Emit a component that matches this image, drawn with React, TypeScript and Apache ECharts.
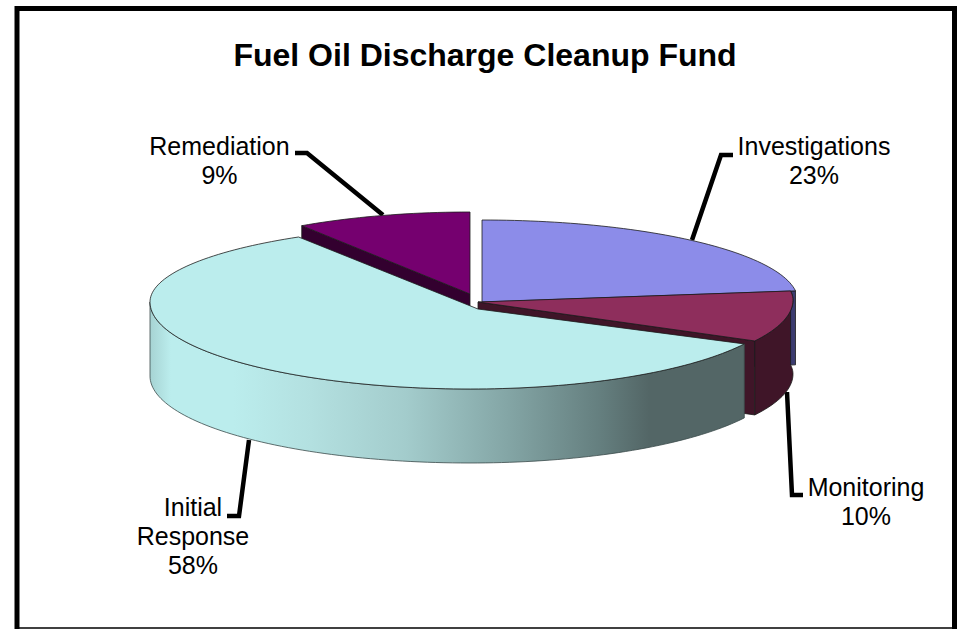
import React, { useEffect, useRef } from "react";
import * as echarts from "echarts";

const categories = ["Investigations", "Monitoring", "Initial\nResponse", "Remediation"];
const values = [23, 10, 58, 9];
const titleText = "Fuel Oil Discharge Cleanup Fund";

const FONT = '"Liberation Sans", Arial, sans-serif';
const topColors = ["#8C8CE9", "#8E2E5C", "#BBEDED", "#75006F"];
const cutColors = ["#3C3C70", "#3F1528", "#3F1528", "#33002F"];
const paintOrder = [2, 3, 4, 1];
const DEPTH = 74;

// projection of each exploded slice: ellipse centre, radii, apex
const slices = [
  { cx: 482, cy: 301, rxL: 315, rxR: 316, ryT: 81, ryB: 81, ax: 482, ay: 302 },
  { cx: 484, cy: 300, rxL: 309, rxR: 309, ryT: 72, ryB: 85, ax: 478, ay: 302 },
  { cx: 470, cy: 302, rxL: 320, rxR: 313, ryT: 77, ryB: 87, ax: 478, ay: 309 },
  { cx: 470, cy: 300, rxL: 314, rxR: 314, ryT: 88, ryB: 88, ax: 470, ay: 294 },
];
const labelAnchors = [
  [814, 160],
  [866, 501],
  [193, 536],
  [219.5, 160],
];
const leaders = [
  [[733, 155], [721, 155], [692, 240]],
  [[787, 392], [792, 495], [803, 495]],
  [[249, 440], [239, 516], [227, 516]],
  [[295, 153], [307, 153], [383, 215]],
];

const total = values.reduce((a, b) => a + b, 0);
const pointAt = (s: any, deg: number, drop = 0) => {
  const t = (deg * Math.PI) / 180;
  const sn = Math.sin(t);
  const cs = Math.cos(t);
  return [
    s.cx + (sn >= 0 ? s.rxR : s.rxL) * sn,
    s.cy - (cs >= 0 ? s.ryT : s.ryB) * cs + drop,
  ];
};
const arc = (s: any, a: number, b: number, drop = 0) => {
  const pts: number[][] = [];
  const n = Math.max(2, Math.ceil(Math.abs(b - a) / 1.5));
  for (let i = 0; i <= n; i++) pts.push(pointAt(s, a + ((b - a) * i) / n, drop));
  return pts;
};

const initialWallFill = new echarts.graphic.LinearGradient(0, 0, 1, 0, [
  { offset: 0, color: "#A6D3D3" },
  { offset: 0.035, color: "#BBEDED" },
  { offset: 0.14, color: "#BBEDED" },
  { offset: 0.27, color: "#B3E0E0" },
  { offset: 0.43, color: "#A3CCCC" },
  { offset: 0.6, color: "#84A6A6" },
  { offset: 0.76, color: "#647E7E" },
  { offset: 0.84, color: "#536666" },
  { offset: 1, color: "#536666" },
]);

const renderItem = (params: any, api: any) => {
  const i = params.dataIndex;
  const before = values.slice(0, i).reduce((a, b) => a + b, 0);
  const a0 = (before / total) * 360;
  const a1 = a0 + (api.value(0) / total) * 360;
  const s = slices[i];
  const z = paintOrder[i] * 10;
  const apex = [s.ax, s.ay];
  const edge = { stroke: "#1c1c1c", lineWidth: 0.8 };
  const children: any[] = [];

  // straight cut wall seen along one radius of the slice
  if (i !== 2) {
    const o = pointAt(s, i === 3 ? a0 : a1);
    children.push({
      type: "polygon",
      z2: z,
      shape: { points: [apex, o, [o[0], o[1] + DEPTH], [apex[0], apex[1] + DEPTH]] },
      style: { fill: cutColors[i], ...edge },
    });
  }
  // outer wall on the front of the ellipse
  if (i === 1) {
    children.push({
      type: "polygon",
      z2: z + 1,
      shape: { points: [...arc(s, a0, a1), ...arc(s, a1, a0, DEPTH)] },
      style: { fill: cutColors[i], ...edge },
    });
  } else if (i === 2) {
    children.push({
      type: "polygon",
      z2: z + 1,
      shape: { points: [...arc(s, a0, 270), ...arc(s, 270, a0, DEPTH)] },
      style: { fill: initialWallFill, stroke: "#3a4a4a", lineWidth: 0.8 },
    });
  }
  // top face
  children.push({
    type: "polygon",
    z2: z + 2,
    shape: { points: [apex, ...arc(s, a0, a1)] },
    style: { fill: topColors[i], ...edge },
  });
  // leader and label
  children.push({
    type: "polyline",
    z2: 1,
    shape: { points: leaders[i] },
    style: { fill: "none", stroke: "#000", lineWidth: 4.5, lineJoin: "miter" },
  });
  children.push({
    type: "text",
    z2: 60,
    style: {
      text: `${categories[i]}\n${api.value(0)}%`,
      x: labelAnchors[i][0],
      y: labelAnchors[i][1],
      align: "center",
      verticalAlign: "middle",
      fontFamily: FONT,
      fontSize: 25,
      lineHeight: 29,
      fill: "#000",
    },
  });
  return { type: "group", children };
};

export default function App() {
  const ref = useRef<HTMLDivElement>(null);
  useEffect(() => {
    const chart = echarts.init(ref.current!, null, { renderer: "svg" });
    chart.setOption({
      animation: false,
      backgroundColor: "#fff",
      title: {
        text: titleText,
        left: 480,
        top: 34,
        textAlign: "center",
        textStyle: { fontFamily: FONT, fontSize: 32, fontWeight: "bold", color: "#000" },
      },
      graphic: [
        {
          type: "polyline",
          shape: { points: [[17, 632], [17, 8.5], [954.5, 8.5], [954.5, 632]] },
          style: { fill: "none", stroke: "#000", lineWidth: 5 },
        },
        {
          type: "line",
          shape: { x1: 17, y1: 628, x2: 954.5, y2: 628 },
          style: { stroke: "#000", lineWidth: 1.5 },
        },
      ],
      series: [
        {
          type: "custom",
          coordinateSystem: "none",
          renderItem,
          silent: true,
          clip: false,
          data: values.map((v, i) => ({ name: categories[i], value: [v] })),
        },
      ],
    });
    return () => chart.dispose();
  }, []);
  return (
    <div
      ref={ref}
      style={{ position: "fixed", left: 0, top: 0, width: 962, height: 629 }}
    />
  );
}
